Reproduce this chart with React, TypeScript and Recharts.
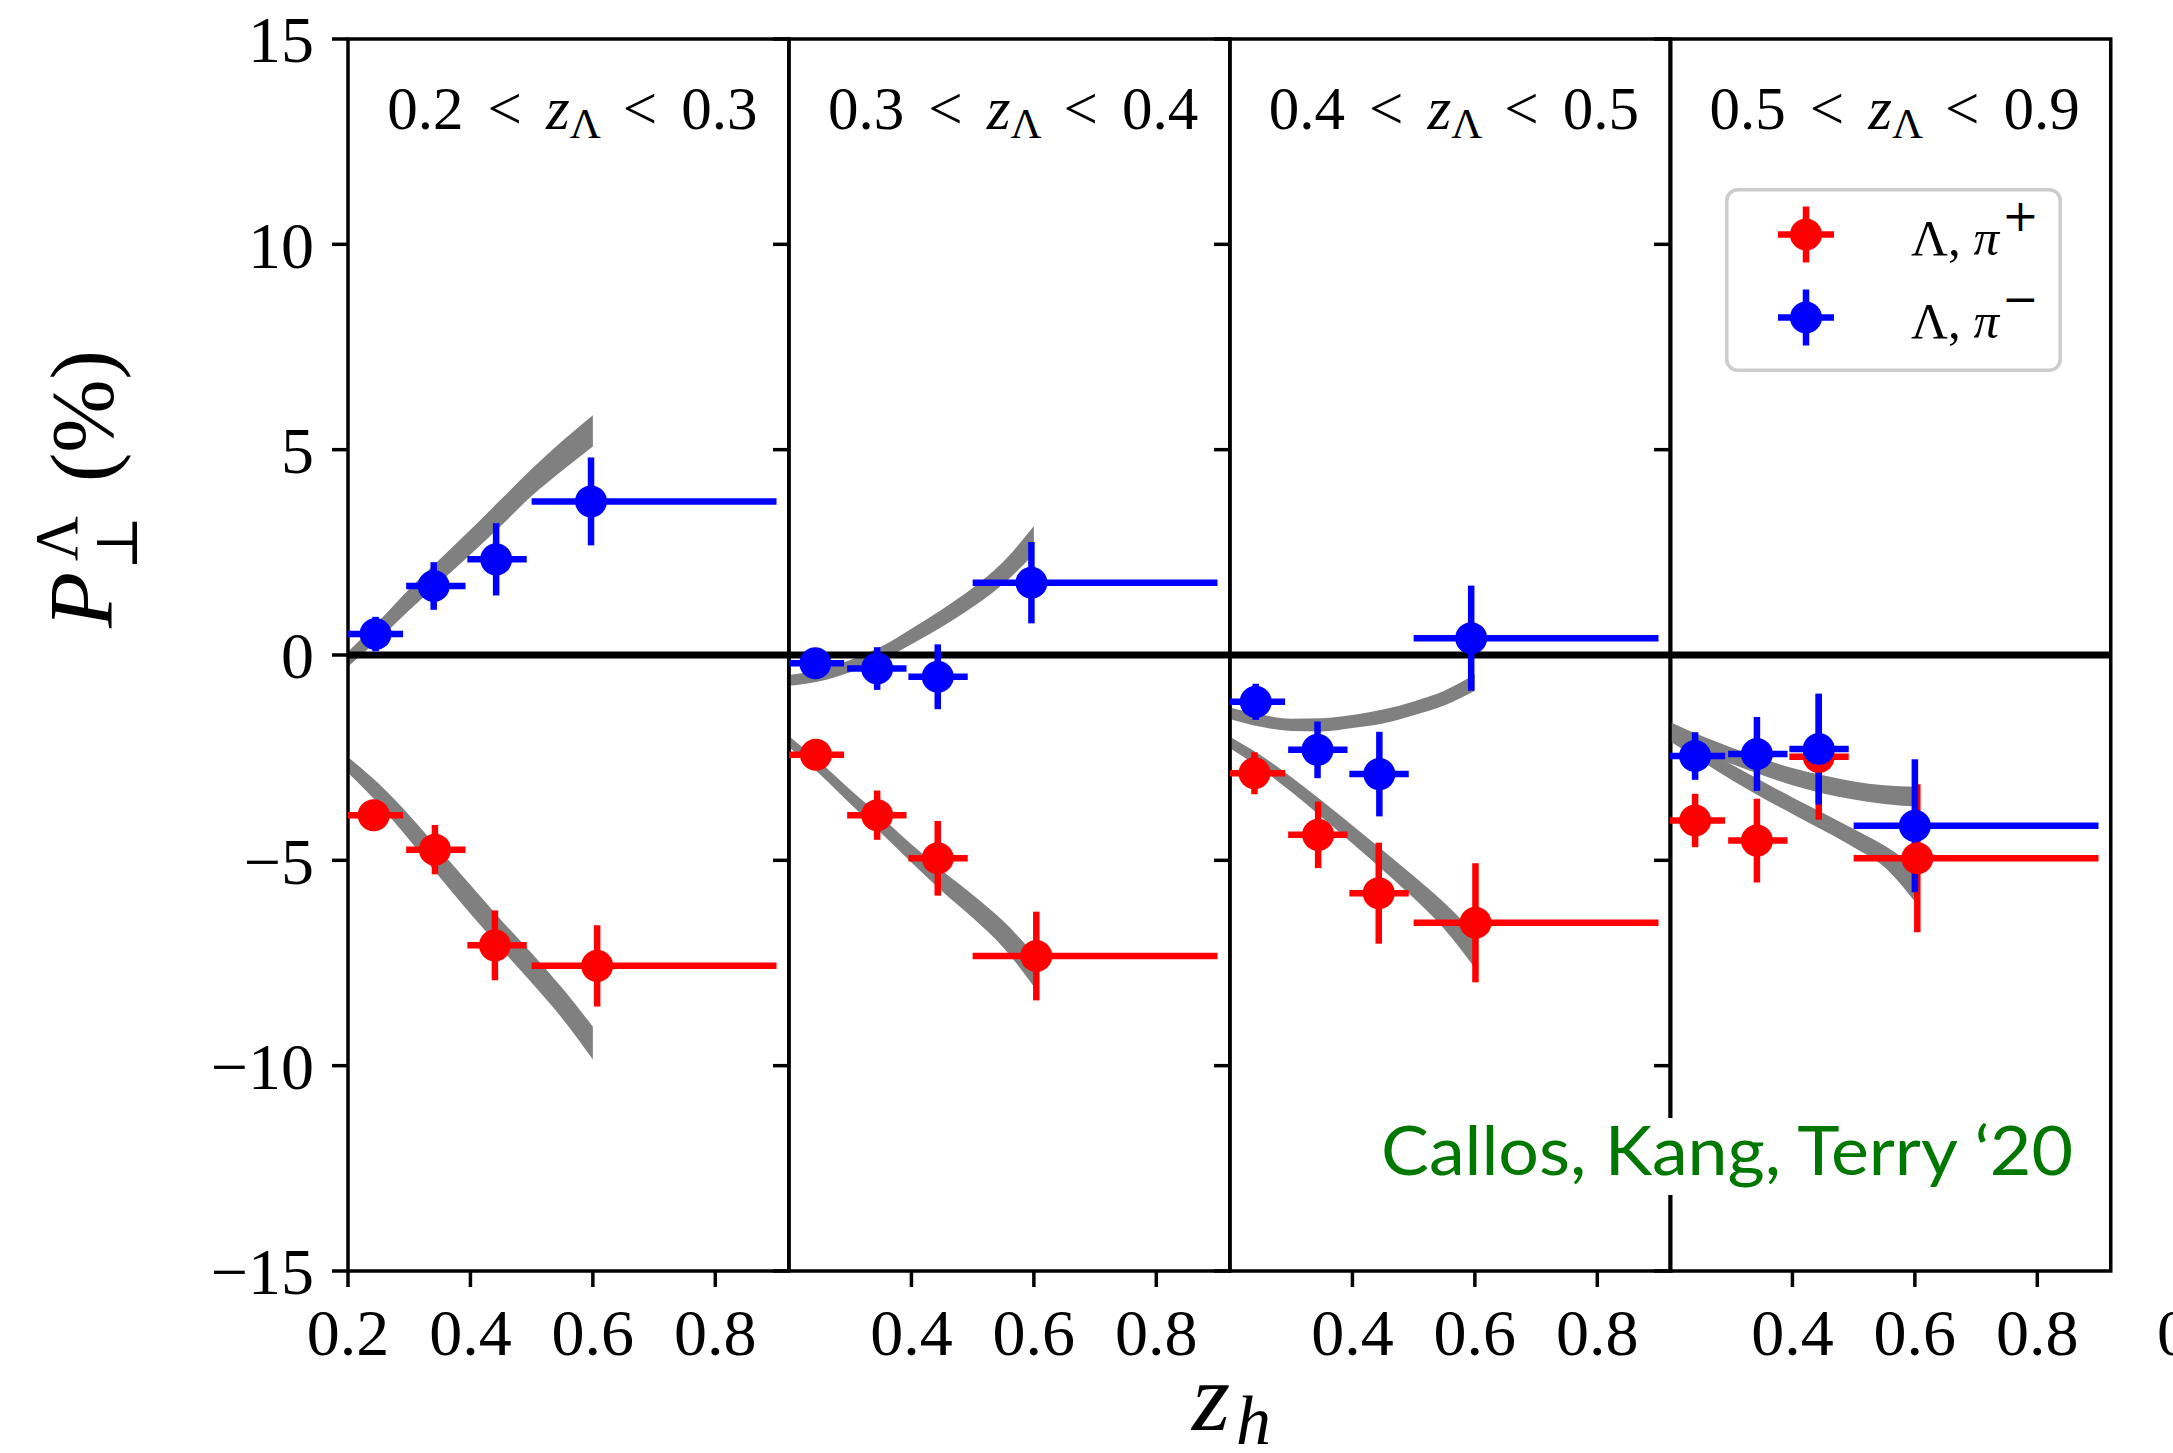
import React from "react";
import {
  Area,
  ComposedChart,
  ErrorBar,
  Legend,
  ReferenceArea,
  ReferenceLine,
  Scatter,
  XAxis,
  YAxis,
} from "recharts";

const serif = "'Liberation Serif', 'DejaVu Serif', serif";

// panel labels: lo < z_Lambda < hi
const zLambdaLo = ["0.2", "0.3", "0.4", "0.5"];
const zLambdaHi = ["0.3", "0.4", "0.5", "0.9"];

const xTicksFirst = [0.2, 0.4, 0.6, 0.8];
const xTicksRest = [0.4, 0.6, 0.8];
const yTicks = [-15, -10, -5, 0, 5, 10, 15];

// z_h bin edges (horizontal error bars)
const binLow = [0.2, 0.295, 0.395, 0.5];
const binHigh = [0.29, 0.392, 0.492, 0.9];

const pionNames = ["Λ, π⁺", "Λ, π⁻"];
const pionCharges = ["+", "\u2212"];

// Lambda, pi+ (red)
const redX = [
  [0.242, 0.342, 0.44, 0.607],
  [0.244, 0.344, 0.443, 0.604],
  [0.24, 0.344, 0.443, 0.601],
  [0.241, 0.342, 0.443, 0.604],
];
const redY = [
  [-3.9, -4.74, -7.07, -7.57],
  [-2.43, -3.9, -4.95, -7.33],
  [-2.88, -4.38, -5.8, -6.52],
  [-4.03, -4.52, -2.48, -4.95],
];
const redErr = [
  [0.3, 0.6, 0.85, 0.99],
  [0.25, 0.6, 0.91, 1.08],
  [0.51, 0.81, 1.23, 1.45],
  [0.65, 1.02, 1.53, 1.8],
];

// Lambda, pi- (blue)
const blueX = [
  [0.245, 0.34, 0.442, 0.597],
  [0.243, 0.344, 0.443, 0.596],
  [0.242, 0.343, 0.444, 0.594],
  [0.241, 0.342, 0.443, 0.6],
];
const blueY = [
  [0.51, 1.68, 2.33, 3.74],
  [-0.2, -0.33, -0.53, 1.76],
  [-1.14, -2.31, -2.9, 0.41],
  [-2.46, -2.41, -2.29, -4.16],
];
const blueErr = [
  [0.42, 0.58, 0.88, 1.07],
  [0.25, 0.52, 0.79, 0.99],
  [0.44, 0.69, 1.03, 1.28],
  [0.58, 0.9, 1.35, 1.62],
];

// theory bands
const bandX = [0.2, 0.25, 0.3, 0.35, 0.4, 0.45, 0.5, 0.55, 0.6];
const upperLo = [
  [-0.28, 0.38, 1.09, 1.77, 2.45, 3.15, 3.87, 4.49, 5.08],
  [-0.75, -0.64, -0.42, -0.14, 0.26, 0.69, 1.17, 1.73, 2.46],
  [-1.56, -1.75, -1.85, -1.86, -1.78, -1.67, -1.47, -1.23, -0.87],
  [-1.97, -2.34, -2.65, -2.92, -3.17, -3.37, -3.52, -3.63, -3.69],
];
const upperHi = [
  [0.08, 0.82, 1.61, 2.33, 3.05, 3.79, 4.53, 5.21, 5.84],
  [-0.49, -0.36, -0.12, 0.2, 0.64, 1.11, 1.63, 2.27, 3.14],
  [-1.28, -1.45, -1.55, -1.54, -1.46, -1.33, -1.13, -0.87, -0.47],
  [-1.63, -1.96, -2.25, -2.52, -2.75, -2.93, -3.08, -3.17, -3.21],
];
const lowerLo = [
  [-2.87, -3.63, -4.5, -5.41, -6.3, -7.15, -7.98, -8.85, -9.85],
  [-2.24, -2.9, -3.62, -4.33, -5.05, -5.75, -6.4, -7.12, -8.07],
  [-2.27, -2.76, -3.33, -3.95, -4.59, -5.24, -5.92, -6.67, -7.62],
  [-2.1, -2.57, -3.04, -3.47, -3.87, -4.27, -4.68, -5.16, -6.0],
];
const lowerHi = [
  [-2.49, -3.13, -3.9, -4.75, -5.6, -6.45, -7.26, -8.11, -9.05],
  [-1.98, -2.6, -3.28, -3.93, -4.61, -5.25, -5.84, -6.48, -7.27],
  [-1.99, -2.44, -2.97, -3.55, -4.15, -4.76, -5.38, -6.03, -6.78],
  [-1.8, -2.23, -2.66, -3.07, -3.47, -3.85, -4.24, -4.64, -5.15],
];

const RED = "#ff0000";
const BLUE = "#0000ff";
const GRAY = "#808080";
const pionColors = [RED, BLUE];

const PANEL_LEFT = 348;
const PANEL_W = 440.75;
const PLOT_TOP = 39;
const PLOT_H = 1232;
const YAXIS_W = 160;
const XAXIS_H = 130;
const MARGIN_R = 10;

const toPoints = (xs: number[], ys: number[], es: number[]) =>
  xs.map((x, i) => ({
    x,
    y: ys[i],
    ex: [x - binLow[i], binHigh[i] - x],
    ey: es[i],
  }));

const toBand = (lo: number[], hi: number[]) =>
  bandX.map((x, i) => ({ x, range: [lo[i], hi[i]] }));

const fmtY = (v: number) => (v < 0 ? `\u2212${Math.abs(v)}` : `${v}`);

const dot = (color: string) => (p: any) =>
  <circle cx={p.cx} cy={p.cy} r={16} fill={color} />;

const renderLegend = (props: any) => {
  const items = (props.payload || []).filter((e: any) => pionNames.includes(e.value));
  return (
    <svg width={337} height={184} style={{ display: "block" }}>
      <rect
        x={1.75}
        y={1.75}
        width={333.5}
        height={180.5}
        rx={11}
        fill="#fff"
        fillOpacity={0.8}
        stroke="#cccccc"
        strokeWidth={3.5}
      />
      {items.map((e: any, i: number) => {
        const k = pionNames.indexOf(e.value);
        const color = pionColors[k];
        const cy = 46.5 + k * 83;
        return (
          <g key={i}>
            <line x1={53} x2={109} y1={cy} y2={cy} stroke={color} strokeWidth={6.5} />
            <line x1={81} x2={81} y1={cy - 28} y2={cy + 28} stroke={color} strokeWidth={6.5} />
            <circle cx={81} cy={cy} r={16} fill={color} />
            <text x={186} y={cy + 20} fontFamily={serif} fontSize={51} fill="#000">
              {"Λ, "}
              <tspan fontStyle="italic">π</tspan>
              <tspan fontFamily="'DejaVu Serif', serif" fontSize={44} dx={3} dy={-24}>
                {pionCharges[k]}
              </tspan>
            </text>
          </g>
        );
      })}
    </svg>
  );
};

const Panel = ({ index }: { index: number }) => {
  const left = PANEL_LEFT + index * PANEL_W - YAXIS_W;
  const red = toPoints(redX[index], redY[index], redErr[index]);
  const blue = toPoints(blueX[index], blueY[index], blueErr[index]);
  const upper = toBand(upperLo[index], upperHi[index]);
  const lower = toBand(lowerLo[index], lowerHi[index]);
  const axisTick = { fontSize: 66, fill: "#000", fontFamily: serif };
  const tickLine = { stroke: "#000", strokeWidth: 3.5 };

  return (
    <div style={{ position: "absolute", left, top: 0 }}>
      <ComposedChart
        width={YAXIS_W + PANEL_W + MARGIN_R}
        height={PLOT_TOP + PLOT_H + XAXIS_H}
        margin={{ top: PLOT_TOP, right: MARGIN_R, bottom: 0, left: 0 }}
      >
        <XAxis
          type="number"
          dataKey="x"
          domain={[0.2, 0.92]}
          allowDataOverflow
          ticks={index === 0 ? xTicksFirst : xTicksRest}
          interval={0}
          tickFormatter={(v: number) => v.toFixed(1)}
          height={XAXIS_H}
          axisLine={false}
          stroke="#000"
          tickSize={16}
          tickMargin={21}
          tickLine={tickLine}
          tick={axisTick}
        />
        <YAxis
          type="number"
          dataKey="y"
          domain={[-15, 15]}
          allowDataOverflow
          ticks={yTicks}
          interval={0}
          tickFormatter={index === 0 ? fmtY : () => ""}
          width={YAXIS_W}
          axisLine={false}
          stroke="#000"
          tickSize={16}
          tickMargin={18}
          tickLine={tickLine}
          tick={axisTick}
        />
        <Area
          data={upper}
          dataKey="range"
          type="monotone"
          stroke="none"
          fill={GRAY}
          fillOpacity={1}
          legendType="none"
          isAnimationActive={false}
        />
        <Area
          data={lower}
          dataKey="range"
          type="monotone"
          stroke="none"
          fill={GRAY}
          fillOpacity={1}
          legendType="none"
          isAnimationActive={false}
        />
        <ReferenceLine y={0} stroke="#000" strokeWidth={7} />
        <Scatter name={pionNames[0]} data={red} fill={RED} shape={dot(RED)} isAnimationActive={false}>
          <ErrorBar dataKey="ex" direction="x" width={0} stroke={RED} strokeWidth={6.5} />
          <ErrorBar dataKey="ey" direction="y" width={0} stroke={RED} strokeWidth={6.5} />
        </Scatter>
        <Scatter name={pionNames[1]} data={blue} fill={BLUE} shape={dot(BLUE)} isAnimationActive={false}>
          <ErrorBar dataKey="ex" direction="x" width={0} stroke={BLUE} strokeWidth={6.5} />
          <ErrorBar dataKey="ey" direction="y" width={0} stroke={BLUE} strokeWidth={6.5} />
        </Scatter>
        <ReferenceArea
          x1={0.2}
          x2={0.92}
          y1={-15}
          y2={15}
          fill="none"
          fillOpacity={0}
          stroke="#000"
          strokeOpacity={1}
          strokeWidth={3.5}
        />
        {index === 3 && (
          <Legend
            layout="vertical"
            align="center"
            verticalAlign="middle"
            wrapperStyle={{ left: 214.75, top: 187.5, width: 337, height: 184 }}
            content={renderLegend}
          />
        )}
      </ComposedChart>
    </div>
  );
};

export default function App() {
  return (
    <div
      style={{
        position: "absolute",
        left: 0,
        top: 0,
        width: 2173,
        height: 1453,
        overflow: "hidden",
        background: "#fff",
      }}
    >
      {[0, 1, 2, 3].map((i) => (
        <Panel key={i} index={i} />
      ))}
      <svg
        width={2173}
        height={1453}
        style={{ position: "absolute", left: 0, top: 0, pointerEvents: "none" }}
        fontFamily={serif}
      >
        {zLambdaLo.map((lo, i) => (
          <text
            key={i}
            x={PANEL_LEFT + i * PANEL_W + PANEL_W / 2 + 4}
            y={129}
            fontSize={61}
            textAnchor="middle"
            fill="#000"
          >
            <tspan>{lo}</tspan>
            <tspan dx={24}>{"<"}</tspan>
            <tspan dx={24} fontStyle="italic">z</tspan>
            <tspan fontSize={43} dy={9}>Λ</tspan>
            <tspan dx={22} dy={-9}>{"<"}</tspan>
            <tspan dx={24}>{zLambdaHi[i]}</tspan>
          </text>
        ))}
        <g transform="translate(112,495) rotate(-90)" fill="#000">
          <text x={-133} y={0} fontSize={92} fontStyle="italic">P</text>
          <text x={-66} y={-35} fontSize={62}>Λ</text>
          <text x={-75} y={25} fontSize={58}>⊥</text>
          <text x={13} y={0} fontSize={88}>(%)</text>
        </g>
        <text x={1192} y={1430} fontSize={98} fontStyle="italic" fill="#000">z</text>
        <text x={1236} y={1444} fontSize={70} fontStyle="italic" fill="#000">h</text>
        <text x={2157} y={1355} fontSize={66} fill="#000">0</text>
        <rect x={1376} y={1118} width={704} height={77} fill="#fff" />
        <text
          x={1381}
          y={1175}
          fontFamily="Lato, 'Open Sans', sans-serif"
          fontSize={68}
          fill="#007800"
          textLength={692}
          lengthAdjust="spacingAndGlyphs"
        >
          Callos, Kang, Terry ‘20
        </text>
      </svg>
    </div>
  );
}
